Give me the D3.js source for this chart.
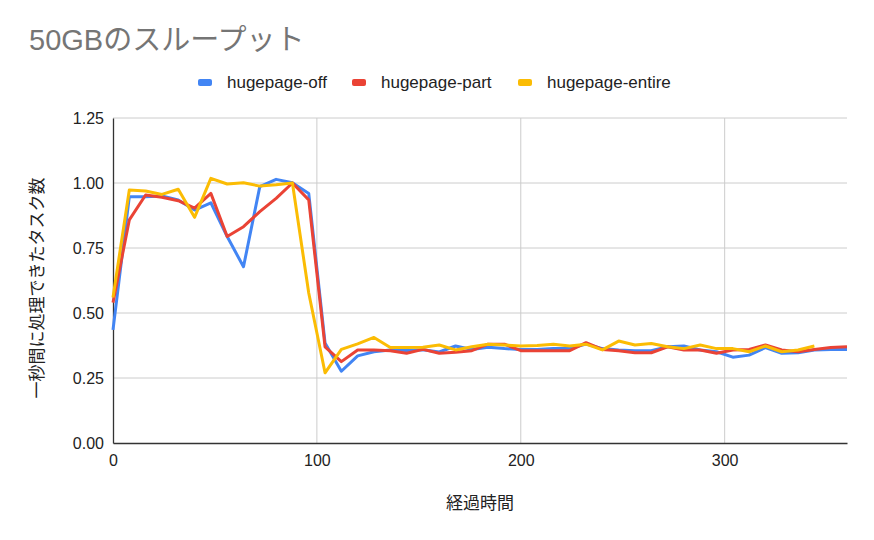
<!DOCTYPE html>
<html>
<head>
<meta charset="utf-8">
<script src="https://cdn.jsdelivr.net/npm/d3@7"></script>
<style>
body{margin:0;background:#fff;}
text{font-family:Arial,"Liberation Sans","Noto Sans CJK JP",sans-serif;}
</style>
</head>
<body>
<div id="viz"></div>
<script>
// data (x every 8 sec)
var times = d3.range(0, 361, 8);
var hugepageOff = [0.435,0.947,0.947,0.95,0.935,0.896,0.924,0.794,0.678,0.986,1.014,1.001,0.96,
  0.385,0.276,0.335,0.351,0.358,0.356,0.359,0.35,0.373,0.36,0.368,0.363,0.36,0.36,0.363,0.363,
  0.381,0.363,0.358,0.355,0.355,0.37,0.373,0.358,0.351,0.33,0.338,0.367,0.345,0.347,0.358,0.36,0.36];
var hugepagePart = [0.54,0.858,0.954,0.945,0.932,0.903,0.96,0.794,0.832,0.89,0.941,1.0,0.935,
  0.37,0.313,0.358,0.358,0.355,0.345,0.36,0.345,0.349,0.355,0.38,0.38,0.355,0.355,0.355,0.355,
  0.386,0.36,0.355,0.347,0.347,0.37,0.358,0.358,0.345,0.358,0.36,0.377,0.358,0.351,0.36,0.367,0.37];
var hugepageEntire = [0.56,0.973,0.969,0.956,0.976,0.868,1.018,0.996,1.001,0.988,0.993,1.0,0.577,
  0.27,0.36,0.381,0.406,0.367,0.367,0.368,0.377,0.358,0.37,0.38,0.377,0.373,0.375,0.38,0.373,
  0.38,0.358,0.392,0.377,0.383,0.37,0.363,0.377,0.363,0.363,0.351,0.373,0.351,0.358,0.373];
var seriesNames = ['hugepage-off','hugepage-part','hugepage-entire'];
var colors = ['#4285f4','#ea4335','#fbbc04'];
var yTicks = [0,0.25,0.5,0.75,1.0,1.25];
var xTicks = [0,100,200,300];

var svg = d3.select('#viz').append('svg')
    .attr('width',874)
    .attr('height',540);

var x = d3.scaleLinear().domain([0,360]).range([113,847]);
var y = d3.scaleLinear().domain([0,1.25]).range([443,118]);

// title
svg.append('text')
    .attr('x',29).attr('y',50)
    .style('font-size','29px')
    .style('fill','#757575')
    .text('50GBのスループット');

// legend
var legX = [198,352,518];
seriesNames.forEach(function(name,i){
    svg.append('rect')
        .attr('x',legX[i]).attr('y',79)
        .attr('width',14).attr('height',7)
        .attr('rx',2)
        .style('fill',colors[i]);
    svg.append('text')
        .attr('x',legX[i]+29).attr('y',88)
        .style('font-size','17px')
        .style('fill','#222')
        .text(name);
});

// gridlines
svg.append('g').selectAll('line.h')
    .data(yTicks.slice(1)).enter().append('line')
    .attr('x1',113).attr('x2',847)
    .attr('y1',function(d){return y(d);})
    .attr('y2',function(d){return y(d);})
    .style('stroke','#cccccc').style('stroke-width',1);
svg.append('g').selectAll('line.v')
    .data(xTicks.slice(1)).enter().append('line')
    .attr('y1',118).attr('y2',443)
    .attr('x1',function(d){return x(d);})
    .attr('x2',function(d){return x(d);})
    .style('stroke','#cccccc').style('stroke-width',1);

// axes
var yAxis = svg.append('g')
    .attr('transform','translate(113,0)')
    .call(d3.axisLeft(y).tickValues(yTicks).tickFormat(d3.format('.2f')).tickSize(0).tickPadding(9));
var xAxis = svg.append('g')
    .attr('transform','translate(0,443)')
    .call(d3.axisBottom(x).tickValues(xTicks).tickFormat(d3.format('d')).tickSize(0).tickPadding(12));
[yAxis,xAxis].forEach(function(a){
    a.select('.domain').style('stroke','#333').style('stroke-width',1.3);
    a.selectAll('text')
        .style('font-size','16px')
        .style('fill','#222')
        .style('font-family','Arial,"Liberation Sans",sans-serif');
});

// lines
var allSeries = [hugepageOff,hugepagePart,hugepageEntire];
var line = d3.line()
    .x(function(d,i){return x(times[i]);})
    .y(function(d){return y(d);});
allSeries.forEach(function(s,i){
    svg.append('path')
        .datum(s)
        .attr('d',line)
        .style('fill','none')
        .style('stroke',colors[i])
        .style('stroke-width',3)
        .style('stroke-linejoin','round');
});

// axis titles
svg.append('text')
    .attr('x',480).attr('y',509)
    .attr('text-anchor','middle')
    .style('font-size','17px')
    .style('fill','#222')
    .text('経過時間');
svg.append('text')
    .attr('transform','translate(43,288) rotate(-90)')
    .attr('text-anchor','middle')
    .style('font-size','17px')
    .style('fill','#222')
    .text('一秒間に処理できたタスク数');
</script>
</body>
</html>
